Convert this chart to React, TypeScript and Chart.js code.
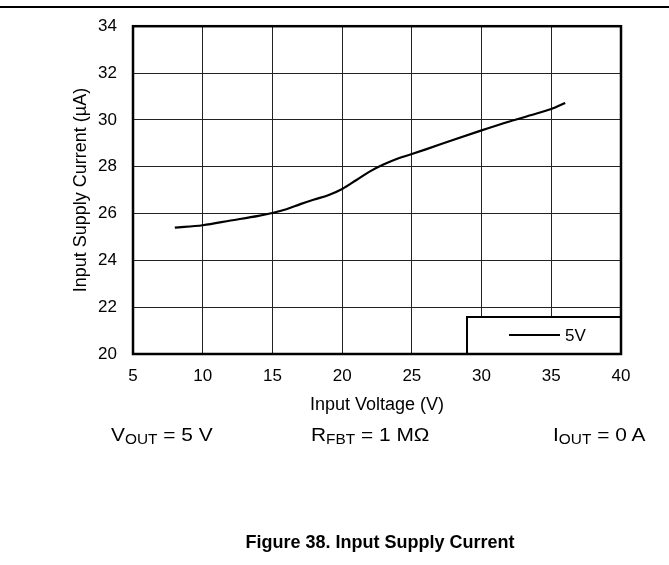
import React, { useEffect, useRef } from "react";
import { Chart, registerables } from "chart.js";

Chart.register(...registerables);

// ---- data ----
const inputVoltage = [8, 10, 12, 14, 15, 16, 17, 18, 19, 20, 21, 22, 23, 24, 25, 26, 28, 30, 32, 34, 35, 36];
const supplyCurrent5V = [25.4, 25.5, 25.7, 25.9, 26.02, 26.18, 26.4, 26.6, 26.78, 27.05, 27.42, 27.8, 28.1, 28.35, 28.54, 28.74, 29.15, 29.55, 29.93, 30.28, 30.46, 30.72];
const xTickValues = [5, 10, 15, 20, 25, 30, 35, 40];
const yTickValues = [20, 22, 24, 26, 28, 30, 32, 34];
const seriesLabel = "5V";
const xTitle = "Input Voltage (V)";
const yTitle = "Input Supply Current (µA)";
const caption = "Figure 38. Input Supply Current";

const FONT = '"Liberation Sans", Arial, Helvetica, sans-serif';

const framePlugin = {
  id: "frameAndLegend",
  afterDraw(chart: any) {
    const { ctx, chartArea: a } = chart;
    ctx.save();
    // legend box (bottom-right inside plot)
    const bw = 154;
    const bh = 37;
    const bx = a.right - bw;
    const by = a.bottom - bh;
    ctx.fillStyle = "#fff";
    ctx.fillRect(bx, by, bw, bh);
    ctx.strokeStyle = "#000";
    ctx.lineWidth = 2;
    ctx.strokeRect(bx, by, bw, bh);
    ctx.beginPath();
    ctx.moveTo(bx + 42, by + 18);
    ctx.lineTo(bx + 93, by + 18);
    ctx.lineWidth = 2;
    ctx.stroke();
    ctx.fillStyle = "#000";
    ctx.font = `17px ${FONT}`;
    ctx.textAlign = "left";
    ctx.textBaseline = "middle";
    ctx.fillText(seriesLabel, bx + 98, by + 19);
    // outer frame
    ctx.lineWidth = 2.5;
    ctx.strokeRect(a.left, a.top, a.right - a.left, a.bottom - a.top);
    ctx.restore();
  },
};

function ChartView() {
  const ref = useRef<HTMLCanvasElement | null>(null);
  useEffect(() => {
    if (!ref.current) return;
    const chart = new Chart(ref.current, {
      type: "line",
      data: {
        datasets: [
          {
            label: seriesLabel,
            data: inputVoltage.map((v, i) => ({ x: v, y: supplyCurrent5V[i] })),
            borderColor: "#000",
            borderWidth: 2.2,
            pointRadius: 0,
            fill: false,
            cubicInterpolationMode: "monotone",
          },
        ],
      },
      options: {
        responsive: false,
        maintainAspectRatio: false,
        animation: false,
        devicePixelRatio: 1,
        layout: { padding: { left: 0, top: 22, right: 48, bottom: 149 } },
        plugins: {
          legend: { display: false },
          tooltip: { enabled: false },
        },
        scales: {
          x: {
            type: "linear",
            min: 5,
            max: 40,
            afterBuildTicks: (scale: any) => {
              scale.ticks = xTickValues.map((v) => ({ value: v }));
            },
            afterFit: (scale: any) => {
              scale.height = 62;
            },
            grid: { color: "#222", lineWidth: 1, drawTicks: false },
            border: { display: true, color: "#000", width: 2 },
            ticks: {
              color: "#000",
              padding: 12,
              font: { family: FONT, size: 17 },
            },
            title: {
              display: true,
              text: xTitle,
              color: "#000",
              padding: { top: 0, bottom: 0 },
              font: { family: FONT, size: 18 },
            },
          },
          y: {
            type: "linear",
            min: 20,
            max: 34,
            afterBuildTicks: (scale: any) => {
              scale.ticks = yTickValues.map((v) => ({ value: v }));
            },
            afterFit: (scale: any) => {
              scale.width = 133;
            },
            grid: { color: "#222", lineWidth: 1, drawTicks: false },
            border: { display: true, color: "#000", width: 2 },
            ticks: {
              color: "#000",
              padding: 16,
              font: { family: FONT, size: 17 },
            },
            title: {
              display: true,
              text: yTitle,
              color: "#000",
              padding: { top: 70, bottom: 0 },
              font: { family: FONT, size: 18 },
            },
          },
        },
      },
      plugins: [framePlugin],
    } as any);
    return () => chart.destroy();
  }, []);
  return (
    <canvas
      ref={ref}
      width={669}
      height={565}
      style={{ position: "absolute", left: 0, top: 0, width: 669, height: 565 }}
    />
  );
}

const condStyle: React.CSSProperties = {
  position: "absolute",
  top: 425,
  fontFamily: FONT,
  fontSize: 19,
  lineHeight: 1,
  color: "#000",
  whiteSpace: "nowrap",
  transform: "scaleX(1.1)",
  transformOrigin: "left center",
};
const subStyle: React.CSSProperties = { fontSize: 14, verticalAlign: "-3px", lineHeight: 1 };

export default function App() {
  return (
    <div
      style={{
        position: "absolute",
        left: 0,
        top: 0,
        width: 669,
        height: 565,
        background: "#fff",
        overflow: "hidden",
      }}
    >
      <div style={{ position: "absolute", left: 0, top: 6, width: 669, height: 2, background: "#000" }} />
      <ChartView />
      <div style={{ ...condStyle, left: 111 }}>
        V<span style={subStyle}>OUT</span> = 5 V
      </div>
      <div style={{ ...condStyle, left: 311 }}>
        R<span style={subStyle}>FBT</span> = 1 MΩ
      </div>
      <div style={{ ...condStyle, left: 553 }}>
        I<span style={subStyle}>OUT</span> = 0 A
      </div>
      <div
        style={{
          position: "absolute",
          left: 380,
          top: 533,
          transform: "translateX(-50%)",
          fontFamily: FONT,
          fontWeight: "bold",
          fontSize: 18,
          lineHeight: 1,
          whiteSpace: "nowrap",
          color: "#000",
        }}
      >
        {caption}
      </div>
    </div>
  );
}
